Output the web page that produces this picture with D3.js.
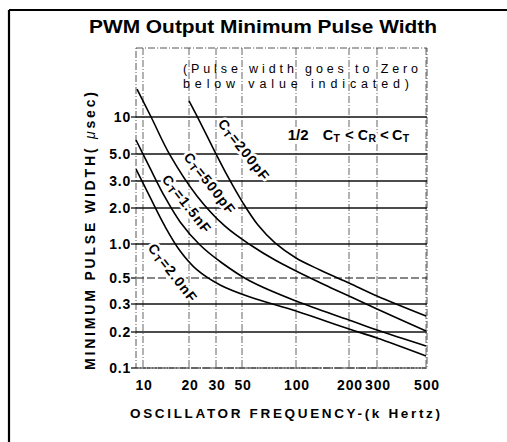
<!DOCTYPE html>
<html><head><meta charset="utf-8">
<script src="https://cdn.jsdelivr.net/npm/d3@7"></script>
<style>body{margin:0;background:#fff}svg{display:block}</style></head>
<body><svg id="c" width="507" height="442"></svg>
<script>
// ---- data ----
const freqTicks = [10, 20, 30, 50, 100, 200, 300, 500];
const freqTickLabels = ["10", "20", "30", "50", "100", "200", "300", "500"];
const widthTicks = [0.1, 0.2, 0.3, 0.5, 1, 2, 3, 5, 10];
const widthTickLabels = ["0.1", "0.2", "0.3", "0.5", "1.0", "2.0", "3.0", "5.0", "10"];
const gridWidths = [0.2, 0.3, 0.5, 1, 2, 3, 5, 10];

const freq200pF  = [20, 22.9, 28.7, 38.0, 50.6, 61.4, 76.4, 100, 136.9, 200, 300, 500];
const width200pF = [13.5, 9.81, 5.59, 3.24, 2.16, 1.44, 1.02, 0.752, 0.589, 0.453, 0.351, 0.252];
const freq500pF  = [9.14, 11.3, 15.0, 22.6, 35.8, 56.9, 76.4, 100, 146.1, 200, 300, 500];
const width500pF = [16.8, 10, 4.91, 2.39, 1.41, 0.96, 0.721, 0.577, 0.436, 0.351, 0.279, 0.203];
const freq1n5F   = [9, 11.1, 13.9, 17.5, 23.6, 33.8, 55.4, 100, 200, 300, 500];
const width1n5F  = [6.5, 3.84, 2.36, 1.53, 0.98, 0.679, 0.471, 0.318, 0.238, 0.206, 0.153];
const freq2n0F   = [9, 11.1, 13.9, 17.5, 22.6, 32.5, 55.4, 100, 200, 300, 500];
const width2n0F  = [3.76, 2.36, 1.41, 0.867, 0.589, 0.436, 0.344, 0.271, 0.209, 0.178, 0.126];

const curveLabels = [
  {pre: "C", sub: "T", post: "=200pF", f: 51.3, w: 5.39},
  {pre: "C", sub: "T", post: "=500pF", f: 27.4, w: 2.89},
  {pre: "C", sub: "T", post: "=1.5nF", f: 19.4, w: 2.12},
  {pre: "C", sub: "T", post: "=2.0nF", f: 15.7, w: 0.554}
];

// ---- layout ----
const svg = d3.select("#c");
const L = 136, R = 427, T = 48, B = 368;
// the printed axes are hand-drawn and not uniformly logarithmic: piecewise log scales
const x = d3.scaleLog()
  .domain([9, 10, 20, 30, 50, 100, 200, 300, 500])
  .range([L, 143, 189, 216, 242, 296, 349, 377, 426]);
const y = d3.scaleLog()
  .domain([0.1, 0.2, 0.3, 0.5, 1, 2, 3, 5, 10, 36])
  .range([B, 332, 304, 278, 244, 208, 181, 154, 117, T]);

const FONT = "'Liberation Sans', Arial, Helvetica, sans-serif";

// outer frame (top and left rules)
svg.append("line").attr("x1", 9).attr("x2", 507).attr("y1", 10).attr("y2", 10)
  .attr("stroke", "#000").attr("stroke-width", 2.2);
svg.append("line").attr("x1", 9).attr("x2", 9).attr("y1", 10).attr("y2", 442)
  .attr("stroke", "#000").attr("stroke-width", 2.2);

// title
svg.append("text").attr("x", 263).attr("y", 33).attr("text-anchor", "middle")
  .attr("font-family", FONT).attr("font-weight", "bold").attr("font-size", 18)
  .attr("textLength", 348).attr("lengthAdjust", "spacingAndGlyphs")
  .text("PWM Output Minimum Pulse Width");

const g = svg.append("g");

// vertical grid (dash-dot)
g.selectAll("line.vg").data(freqTicks).join("line").attr("class", "vg")
  .attr("x1", d => x(d)).attr("x2", d => x(d)).attr("y1", T).attr("y2", B)
  .attr("stroke", "#555").attr("stroke-width", 0.9).attr("stroke-dasharray", "7,2,1,2");

// plot frame (dashed)
g.append("rect").attr("x", L).attr("y", T).attr("width", R - L).attr("height", B - T)
  .attr("fill", "none").attr("stroke", "#444").attr("stroke-width", 0.9)
  .attr("stroke-dasharray", "7,2,1,2");
g.append("line").attr("x1", L).attr("x2", R).attr("y1", B).attr("y2", B)
  .attr("stroke", "#222").attr("stroke-width", 1.2).attr("stroke-dasharray", "10,1");

// horizontal grid
g.selectAll("line.hg").data(gridWidths).join("line").attr("class", "hg")
  .attr("x1", L).attr("x2", R).attr("y1", d => y(d)).attr("y2", d => y(d))
  .attr("stroke", "#111").attr("stroke-width", d => d === 0.5 ? 1 : 1.4)
  .attr("stroke-dasharray", d => d === 0.5 ? "8,3" : null);

// axis ticks
g.selectAll("line.yt").data(widthTicks).join("line").attr("class", "yt")
  .attr("x1", L - 5).attr("x2", L).attr("y1", d => y(d)).attr("y2", d => y(d))
  .attr("stroke", "#000").attr("stroke-width", 1.2);

// tick labels
g.selectAll("text.yl").data(widthTicks).join("text").attr("class", "yl")
  .attr("x", 131).attr("y", d => y(d) + 5).attr("text-anchor", "end")
  .attr("font-family", FONT).attr("font-weight", "bold").attr("font-size", 14)
  .attr("letter-spacing", 0.8)
  .text((d, i) => widthTickLabels[i]);
g.selectAll("text.xl").data(freqTicks).join("text").attr("class", "xl")
  .attr("x", d => x(d) + 1).attr("y", 390).attr("text-anchor", "middle")
  .attr("font-family", FONT).attr("font-weight", "bold").attr("font-size", 14)
  .attr("letter-spacing", 0.8)
  .text((d, i) => freqTickLabels[i]);

// axis titles
svg.append("text").attr("x", 285).attr("y", 418).attr("text-anchor", "middle")
  .attr("font-family", FONT).attr("font-weight", "bold").attr("font-size", 13.5)
  .attr("textLength", 310).attr("lengthAdjust", "spacing")
  .text("OSCILLATOR FREQUENCY-(k Hertz)");
const yt = svg.append("text").attr("transform", "translate(95,231) rotate(-90)")
  .attr("text-anchor", "middle").attr("font-family", FONT).attr("font-weight", "bold")
  .attr("font-size", 14).attr("textLength", 278).attr("lengthAdjust", "spacing");
yt.append("tspan").text("MINIMUM PULSE WIDTH( ");
yt.append("tspan").attr("font-style", "italic").attr("font-weight", "normal").text("\u03bc");
yt.append("tspan").text("sec)");

// annotation
svg.append("text").attr("x", 183).attr("y", 73).attr("font-family", FONT)
  .attr("font-size", 12.5).attr("textLength", 235).attr("lengthAdjust", "spacing")
  .text("(Pulse width goes to Zero");
svg.append("text").attr("x", 183).attr("y", 87.5).attr("font-family", FONT)
  .attr("font-size", 12.5).attr("textLength", 226).attr("lengthAdjust", "spacing")
  .text("below value indicated)");

// condition text with white knock-out
const cond = svg.append("text").attr("x", x(90)).attr("y", y(6.5)).attr("font-family", FONT)
  .attr("font-weight", "bold").attr("font-size", 15)
  .attr("stroke", "#fff").attr("stroke-width", 5).attr("paint-order", "stroke")
  .attr("stroke-linejoin", "round");
cond.append("tspan").text("1/2");
cond.append("tspan").attr("dx", 14).text("C");
cond.append("tspan").attr("font-size", 10.5).attr("dy", 2).text("T");
cond.append("tspan").attr("dx", 5).attr("dy", -2).text("<");
cond.append("tspan").attr("dx", 4).text("C");
cond.append("tspan").attr("font-size", 10.5).attr("dy", 2).text("R");
cond.append("tspan").attr("dx", 4).attr("dy", -2).text("<");
cond.append("tspan").attr("dx", 3).text("C");
cond.append("tspan").attr("font-size", 10.5).attr("dy", 2).text("T");

// curve labels (knock out the grid behind them)
curveLabels.forEach(lb => {
  const t = svg.append("text")
    .attr("transform", `translate(${x(lb.f)},${y(lb.w)}) rotate(52)`)
    .attr("text-anchor", "middle").attr("dy", 5)
    .attr("font-family", FONT).attr("font-weight", "bold").attr("font-size", 14)
    .attr("letter-spacing", 1.2)
    .attr("stroke", "#fff").attr("stroke-width", 5).attr("paint-order", "stroke")
    .attr("stroke-linejoin", "round");
  t.append("tspan").text(lb.pre);
  t.append("tspan").attr("font-size", 10).attr("dy", 2).text(lb.sub);
  t.append("tspan").attr("dy", -2).text(lb.post);
});

// curves
const series = [
  [freq200pF, width200pF], [freq500pF, width500pF],
  [freq1n5F, width1n5F], [freq2n0F, width2n0F]
];
const line = d3.line().x(d => x(d[0])).y(d => y(d[1])).curve(d3.curveCatmullRom.alpha(0.5));
series.forEach(([f, w]) => {
  svg.append("path").datum(f.map((v, i) => [v, w[i]]))
    .attr("d", line).attr("fill", "none").attr("stroke", "#000").attr("stroke-width", 1.6);
});
</script>
</body></html>
